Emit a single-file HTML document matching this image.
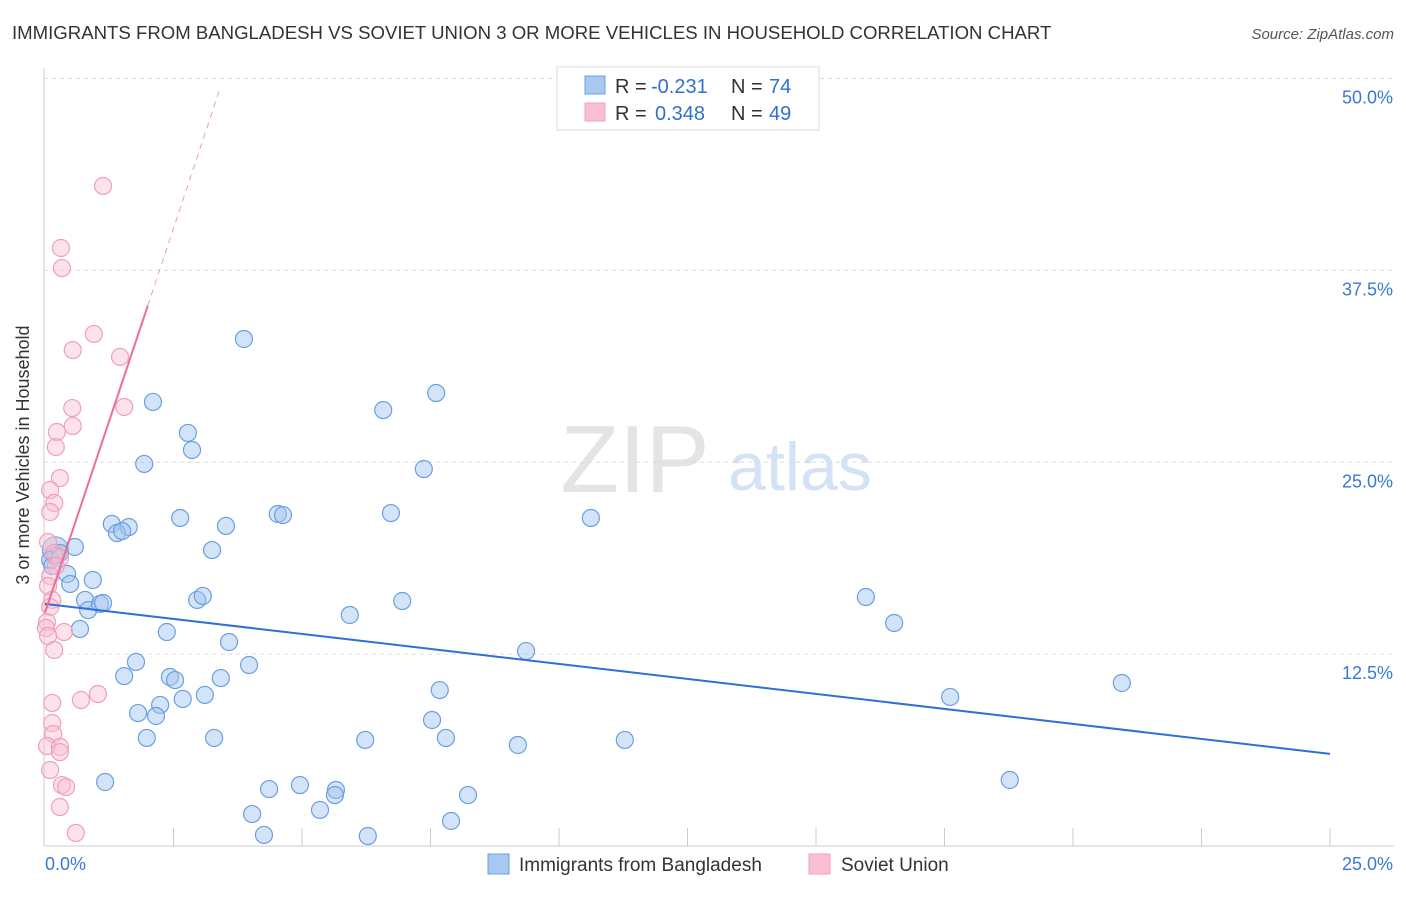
<!DOCTYPE html>
<html><head><meta charset="utf-8"><style>
body{margin:0;background:#fff;font-family:"Liberation Sans",sans-serif;}
svg text{font-family:"Liberation Sans",sans-serif;}
</style></head><body>
<svg id="c" width="1406" height="892" xmlns="http://www.w3.org/2000/svg">
<text x="12" y="39" font-size="18.6" fill="#333">IMMIGRANTS FROM BANGLADESH VS SOVIET UNION 3 OR MORE VEHICLES IN HOUSEHOLD CORRELATION CHART</text>
<text x="1394" y="39" font-size="15" fill="#555" font-style="italic" text-anchor="end">Source: ZipAtlas.com</text>
<text x="635" y="492" font-size="96" fill="#e4e4e4" font-family="Liberation Serif" text-anchor="middle">ZIP</text>
<text x="800" y="490" font-size="68" fill="#d4e2f5" text-anchor="middle">atlas</text>
<g id="grid"></g><g id="marks"></g>
<text x="29" y="455" font-size="18" fill="#333" text-anchor="middle" transform="rotate(-90 29 455)">3 or more Vehicles in Household</text>
<g>
<rect x="557" y="67" width="262" height="63" fill="#fff" stroke="#ddd"/>
<rect x="585" y="76" width="20" height="18" fill="#a8c8f0" stroke="#6a9fe0"/>
<rect x="585" y="103" width="20" height="18" fill="#f8c0d0" stroke="#f0a0b8"/>
<text x="615" y="93" font-size="20" fill="#333">R =</text>
<text x="651" y="93" font-size="20" fill="#2f6fd6">-0.231</text>
<text x="731" y="93" font-size="20" fill="#333">N =</text>
<text x="769" y="93" font-size="20" fill="#2f6fd6">74</text>
<text x="615" y="120" font-size="20" fill="#333">R =</text>
<text x="655" y="120" font-size="20" fill="#2f6fd6">0.348</text>
<text x="731" y="120" font-size="20" fill="#333">N =</text>
<text x="769" y="120" font-size="20" fill="#2f6fd6">49</text>
</g>
<g>
<rect x="488" y="854" width="21" height="20" fill="#a8c8f0" stroke="#6a9fe0"/>
<text x="519" y="871" font-size="19" fill="#333">Immigrants from Bangladesh</text>
<rect x="809" y="854" width="21" height="20" fill="#f8c0d0" stroke="#f0a0b8"/>
<text x="841" y="871" font-size="19" fill="#333">Soviet Union</text>
</g>
</svg>
<script>
const yTicks=[12.5,25,37.5,50];
const yTickLabels=["12.5%","25.0%","37.5%","50.0%"];
const xTickLabels=["0.0%","25.0%"];
const bluePx=[[244,339],[153,402],[436,393],[383,410],[188,433],[192,450],[144,464],[424,469],[278,514],[283,515],[391,513],[180,518],[226,526],[591,518],[112,524],[129,527],[117,533],[122,531],[212,550],[75,547],[60,553],[55,556],[50,560],[52,566],[67,574],[70,584],[93,580],[85,600],[88,610],[100,604],[103,603],[197,600],[203,596],[402,601],[350,615],[866,597],[894,623],[80,629],[167,632],[229,642],[526,651],[136,662],[249,665],[124,676],[170,677],[175,680],[221,678],[440,690],[205,695],[183,699],[160,705],[138,713],[156,716],[950,697],[1122,683],[432,720],[147,738],[214,738],[365,740],[446,738],[518,745],[625,740],[105,782],[269,789],[300,785],[336,790],[335,795],[1010,780],[468,795],[320,810],[252,814],[451,821],[264,835],[368,836]];
const pinkPx=[[103,186],[61,248],[62,268],[94,334],[73,350],[120,357],[72,408],[124,407],[73,426],[57,432],[56,447],[60,478],[50,490],[54,503],[50,512],[48,542],[54,553],[60,558],[56,566],[50,576],[48,586],[52,600],[50,607],[47,622],[46,628],[64,632],[48,636],[54,650],[98,694],[81,700],[52,703],[52,723],[53,734],[47,746],[60,747],[60,752],[62,785],[66,787],[60,807],[76,833],[50,770]];
const blueX=bluePx.map(p=>+((p[0]-45)/51.4).toFixed(2));
const blueY=bluePx.map(p=>+((846-p[1])/15.35).toFixed(2));
const pinkX=pinkPx.map(p=>+((p[0]-45)/51.4).toFixed(2));
const pinkY=pinkPx.map(p=>+((846-p[1])/15.35).toFixed(2));
const blueTrend=[[0,15.77],[25,6.0]];
const pinkTrend=[[0,15.2],[2.0,35.2],[3.4,49.3]];
const X=v=>45+v*51.4, Y=v=>846-v*15.35;
const NS="http://www.w3.org/2000/svg";
const g=document.getElementById('grid'), m=document.getElementById('marks');
function el(t,a,p){const e=document.createElementNS(NS,t);for(const k in a)e.setAttribute(k,a[k]);p.appendChild(e);return e;}
const ax=el('line',{x1:44,y1:68,x2:44,y2:846,stroke:'#ccc'},g);


const bx=el('line',{x1:44,y1:846,x2:1394,y2:846,stroke:'#ccc'},g);


yTicks.forEach((t,i)=>{
 const l=el('line',{x1:44,x2:1394,y1:Y(t),y2:Y(t),stroke:'#ddd','stroke-dasharray':'4,4'},g);
 
 
 const tx=el('text',{x:1393,y:Y(t)+25,'font-size':18,fill:'#3a78d8','text-anchor':'end'},g);
 tx.textContent=yTickLabels[i];
 
 
});
for(let i=1;i<=10;i++){const l=el('line',{x1:X(i*2.5),x2:X(i*2.5),y1:828,y2:846,stroke:'#ccc'},g);
 
 }
[[0,'start',45],[1,'end',1393]].forEach(([i,a,x])=>{const t=el('text',{x:x,y:870,'font-size':18,fill:'#3a78d8','text-anchor':a},g);t.textContent=xTickLabels[i];
 
 });
const bc=el('circle',{cx:X(0.2),cy:Y(19.3),r:13,fill:'rgba(150,185,235,0.5)',stroke:'#6a9fe0'},m);


blueX.forEach((x,i)=>{const c=el('circle',{cx:X(x),cy:Y(blueY[i]),r:8.5,fill:'rgba(160,196,240,0.45)',stroke:'#6a9fe0','stroke-width':1.2},m);
 
 });
pinkX.forEach((x,i)=>{const c=el('circle',{cx:X(x),cy:Y(pinkY[i]),r:8.5,fill:'rgba(248,190,208,0.45)',stroke:'#f0a0b8','stroke-width':1.2},m);
 
 });
const bl=el('line',{x1:X(blueTrend[0][0]),y1:Y(blueTrend[0][1]),x2:X(blueTrend[1][0]),y2:Y(blueTrend[1][1]),stroke:'#2f6fd6','stroke-width':2},m);


const pl=el('line',{x1:X(pinkTrend[0][0]),y1:Y(pinkTrend[0][1]),x2:X(pinkTrend[1][0]),y2:Y(pinkTrend[1][1]),stroke:'#e8709a','stroke-width':2},m);


const pd=el('line',{x1:X(pinkTrend[1][0]),y1:Y(pinkTrend[1][1]),x2:X(pinkTrend[2][0]),y2:Y(pinkTrend[2][1]),stroke:'#e8a0b8','stroke-width':1,'stroke-dasharray':'6,5'},m);


</script>
</body></html>
